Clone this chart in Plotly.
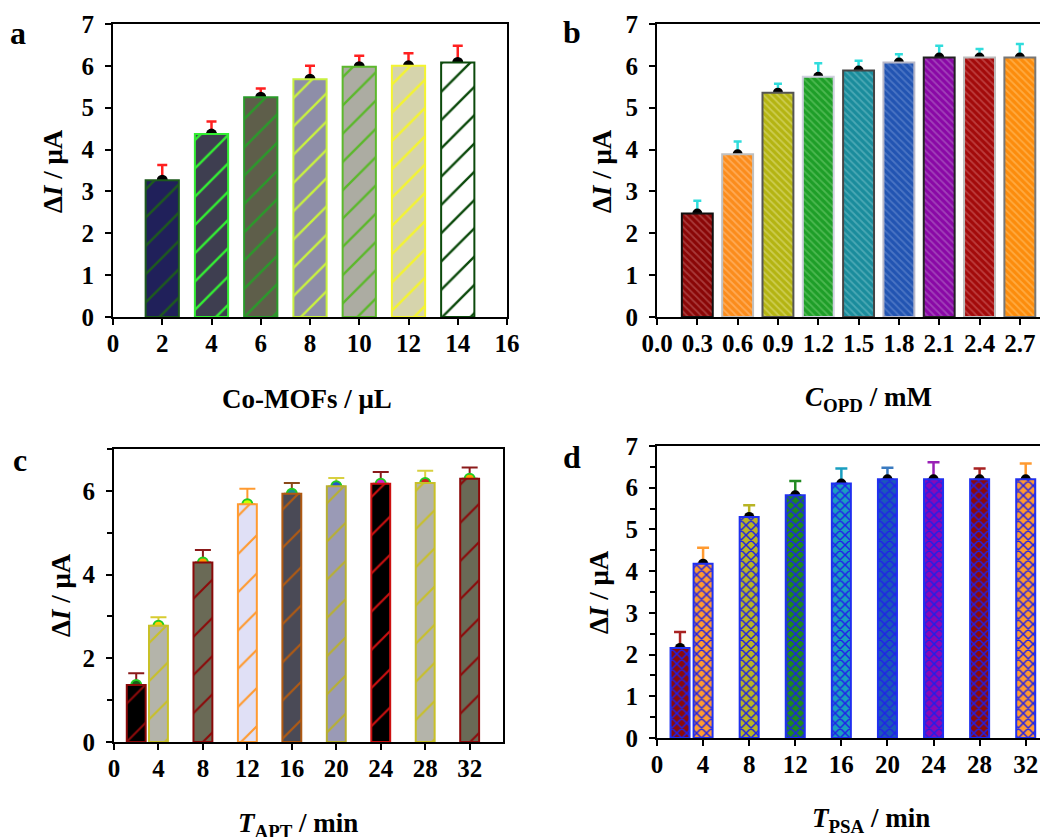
import plotly.graph_objects as go

W, H = 1040, 837

# ---------------- data ----------------
# panel a
a_x = [2, 4, 6, 8, 10, 12, 14]
a_y = [3.27, 4.37, 5.25, 5.68, 5.98, 6.00, 6.08]
a_err = [0.36, 0.30, 0.21, 0.32, 0.26, 0.30, 0.40]
a_bg = ["#20205a", "#3e3e50", "#5e5e4a", "#8e8ea8", "#acaca2", "#d6d4ac", "#ffffff"]
a_fg = ["#1d5a1d", "#33ee33", "#2a9a2a", "#c8f040", "#5cb82c", "#f4f430", "#0c4a0c"]
a_xticks = [0, 2, 4, 6, 8, 10, 12, 14, 16]

# panel b
b_x = [0.3, 0.6, 0.9, 1.2, 1.5, 1.8, 2.1, 2.4, 2.7]
b_y = [2.47, 3.89, 5.36, 5.74, 5.89, 6.08, 6.20, 6.20, 6.20]
b_err = [0.31, 0.30, 0.21, 0.32, 0.23, 0.20, 0.28, 0.20, 0.32]
b_bg = ["#8a0606", "#fb8c1c", "#b4b412", "#1e9e28", "#1a8c9c", "#2254b2", "#8a08a6", "#a30a0a", "#fc8c0c"]
b_fg = ["#a83a3a", "#ffaa55", "#cccc50", "#4cb850", "#4aa8b4", "#4a74c4", "#a040b8", "#bc3c3c", "#ffaa40"]
b_line = ["#111111", "#c0c0c0", "#555555", "#d0d0e0", "#444444", "#b8b8c8", "#222222", "#bcbcbc", "#777777"]
b_xticks = [0.0, 0.3, 0.6, 0.9, 1.2, 1.5, 1.8, 2.1, 2.4, 2.7]
b_xticktext = ["0.0", "0.3", "0.6", "0.9", "1.2", "1.5", "1.8", "2.1", "2.4", "2.7"]

# panel c
c_x = [2, 4, 8, 12, 16, 20, 24, 28, 32]
c_y = [1.36, 2.78, 4.29, 5.68, 5.93, 6.11, 6.17, 6.19, 6.29]
c_err = [0.28, 0.20, 0.30, 0.37, 0.26, 0.20, 0.28, 0.29, 0.27]
c_bg = ["#000000", "#b4b4aa", "#6a6a56", "#e0e0f6", "#4a4a56", "#9a9ab6", "#000000", "#b4b4aa", "#6a6a56"]
c_fg = ["#8b0a0a", "#c8c028", "#8b0a0a", "#ff9a30", "#b05a12", "#b8b030", "#cc1010", "#c8c028", "#8b0a0a"]
c_errc = ["#8b1a1a", "#d8cc30", "#8b1a1a", "#ff9a30", "#8b4a1a", "#d8d040", "#8b1a1a", "#d8d040", "#8b1a1a"]
c_dot = ["#1a5e1a", "#ffcc00", "#ff9900", "#ccff00", "#1a9090", "#2255cc", "#cc22cc", "#cc2222", "#ff9900"]
c_xticks = [0, 4, 8, 12, 16, 20, 24, 28, 32]

# panel d
d_x = [2, 4, 8, 12, 16, 20, 24, 28, 32]
d_y = [2.16, 4.18, 5.30, 5.82, 6.10, 6.20, 6.20, 6.20, 6.20]
d_err = [0.38, 0.38, 0.28, 0.34, 0.36, 0.28, 0.41, 0.26, 0.38]
d_bg = ["#8b0a0a", "#ff9a30", "#b8b424", "#1c8a1c", "#1a9ec0", "#1a5ab8", "#8a08b6", "#8b0a0a", "#ff9a30"]
d_errc = ["#a82222", "#ff9a30", "#b8b424", "#228b22", "#1a9ec0", "#3a7ac0", "#9a20b6", "#a82222", "#ff9a30"]
d_xticks = [0, 4, 8, 12, 16, 20, 24, 28, 32]

y_ticks7 = [0, 1, 2, 3, 4, 5, 6, 7]
y_ticks_c = [0, 2, 4, 6]

# ---------------- layout helpers ----------------
FONT = "Liberation Serif, Times New Roman, serif"


def fx(px):
    return px / W


def fy(py):
    return 1 - py / H


fig = go.Figure()


def add_panel(xs, ys, errs, xa, ya_dot, ya_bar, width, bg, fg, line, lw,
              shape, psize, solid, dot_col, dot_line, dot_size, err_col, err_w, err_th):
    n = len(xs)
    for i in range(n):
        fig.add_trace(go.Scatter(
            x=[xs[i]], y=[ys[i]], mode="markers", xaxis=xa, yaxis=ya_dot,
            marker=dict(color=dot_col[i], size=dot_size,
                        line=dict(color=dot_line, width=2 if dot_line else 0)),
            error_y=dict(type="data", symmetric=False, array=[errs[i]], arrayminus=[0],
                         color=err_col[i], thickness=err_th, width=err_w),
            showlegend=False, hoverinfo="skip"))
    for i in range(n):
        fig.add_trace(go.Bar(
            x=[xs[i]], y=[ys[i]], xaxis=xa, yaxis=ya_bar, width=width,
            marker=dict(color=bg[i], line=dict(color=line[i], width=lw),
                        pattern=dict(shape=shape, fgcolor=fg[i], bgcolor=bg[i],
                                     size=psize, solidity=solid, fillmode="replace")),
            showlegend=False))


add_panel(a_x, a_y, a_err, "x", "y", "y5", 1.35, a_bg, a_fg, a_fg, 2, "/", 20, 0.12,
          ["black"] * 7, None, 11, ["#ff2020"] * 7, 5, 2.5)
add_panel(b_x, b_y, b_err, "x2", "y2", "y6", 0.23, b_bg, b_fg, b_line, 2, "\\", 5, 0.35,
          ["black"] * 9, None, 10, ["#30dcdc"] * 9, 4, 2.5)
add_panel(c_x, c_y, c_err, "x3", "y3", "y7", 1.7, c_bg, c_fg, c_fg, 2, "/", 27, 0.08,
          c_dot, "#22cc22", 10, c_errc, 8, 2)
add_panel(d_x, d_y, d_err, "x4", "y4", "y8", 1.65, d_bg, ["#2020e8"] * 9, ["#2030f0"] * 9, 2,
          "x", 7, 0.38, ["black"] * 9, None, 10, d_errc, 6, 2.5)

tickfont = dict(family=FONT, size=25, color="black", weight="bold")


def xax(dom, rng, tv, tt=None, mirror=True):
    d = dict(domain=dom, range=rng, tickmode="array", tickvals=tv,
             showline=True, linecolor="black", linewidth=2, mirror=mirror,
             ticks="outside", ticklen=6, tickwidth=2, tickcolor="black",
             tickfont=tickfont, showgrid=False, zeroline=False, automargin=False,
             ticklabelstandoff=-3, fixedrange=True)
    if tt is not None:
        d["ticktext"] = tt
    return d


def yax(dom, anchor, tv, mirror=True, minor=None):
    d = dict(domain=dom, range=[0, 7], anchor=anchor, tickmode="array", tickvals=tv,
             showline=True, linecolor="black", linewidth=2, mirror=mirror,
             ticks="outside", ticklen=6, tickwidth=2, tickcolor="black",
             tickfont=tickfont, showgrid=False, zeroline=False, automargin=False,
             ticklabelstandoff=6, fixedrange=True)
    if minor is not None:
        d["minor"] = dict(dtick=minor, ticks="outside", ticklen=5, tickwidth=2,
                          tickcolor="black", showgrid=False)
    return d


def yover(base, anchor):
    return dict(overlaying=base, anchor=anchor, range=[0, 7], visible=False,
                showgrid=False, zeroline=False, fixedrange=True, automargin=False)


dom_ax = [fx(113), fx(507)]
dom_bx = [fx(657), 1.0]
dom_cx = [fx(114), fx(503)]
dom_dx = [fx(657), 1.0]
dom_ay = [fy(317), fy(24)]
dom_cy = [fy(742), fy(449)]
dom_dy = [fy(738), fy(446)]

fig.update_layout(
    width=W, height=H, margin=dict(l=0, r=0, t=0, b=0, pad=0, autoexpand=False),
    paper_bgcolor="white", plot_bgcolor="white", showlegend=False,
    barmode="overlay",
    xaxis=dict(xax(dom_ax, [0, 16], a_xticks), anchor="y"),
    yaxis=yax(dom_ay, "x", y_ticks7),
    xaxis2=dict(xax(dom_bx, [0, 2.85], b_xticks, b_xticktext), anchor="y2"),
    yaxis2=yax(dom_ay, "x2", y_ticks7, mirror=False),
    xaxis3=dict(xax(dom_cx, [0, 35], c_xticks), anchor="y3"),
    yaxis3=yax(dom_cy, "x3", y_ticks_c, minor=1),
    xaxis4=dict(xax(dom_dx, [0, 33.24], d_xticks), anchor="y4"),
    yaxis4=yax(dom_dy, "x4", y_ticks7, mirror=False, minor=0.5),
    yaxis5=yover("y", "x"),
    yaxis6=yover("y2", "x2"),
    yaxis7=yover("y3", "x3"),
    yaxis8=yover("y4", "x4"),
)

tfont = dict(family=FONT, size=27, color="black", weight="bold")
lfont = dict(family=FONT, size=32, color="black", weight="bold")
ytitle = "Δ<i>I</i> / μA"

annots = [
    # panel letters
    ("a", 18, 33, lfont, 0), ("b", 572, 32, lfont, 0),
    ("c", 20, 460, lfont, 0), ("d", 572, 457, lfont, 0),
    # y titles
    (ytitle, 53, 171, tfont, -90), (ytitle, 602, 171, tfont, -90),
    (ytitle, 61, 595, tfont, -90), (ytitle, 599, 592, tfont, -90),
    # x titles
    ("Co-MOFs / μL", 307, 399, tfont, 0),
    ("<i>C</i><sub>OPD</sub> / mM", 868, 399, tfont, 0),
    ("<i>T</i><sub>APT</sub> / min", 298, 825, tfont, 0),
    ("<i>T</i><sub>PSA</sub> / min", 871, 820, tfont, 0),
]
for text, px, py, f, ang in annots:
    fig.add_annotation(text=text, x=fx(px), y=fy(py), xref="paper", yref="paper",
                       xanchor="center", yanchor="middle", showarrow=False,
                       font=f, textangle=ang)

fig.write_html("out.html", config={"displayModeBar": False},
               post_script="document.body.style.margin='0px';"
                           "document.body.style.overflow='hidden';")
